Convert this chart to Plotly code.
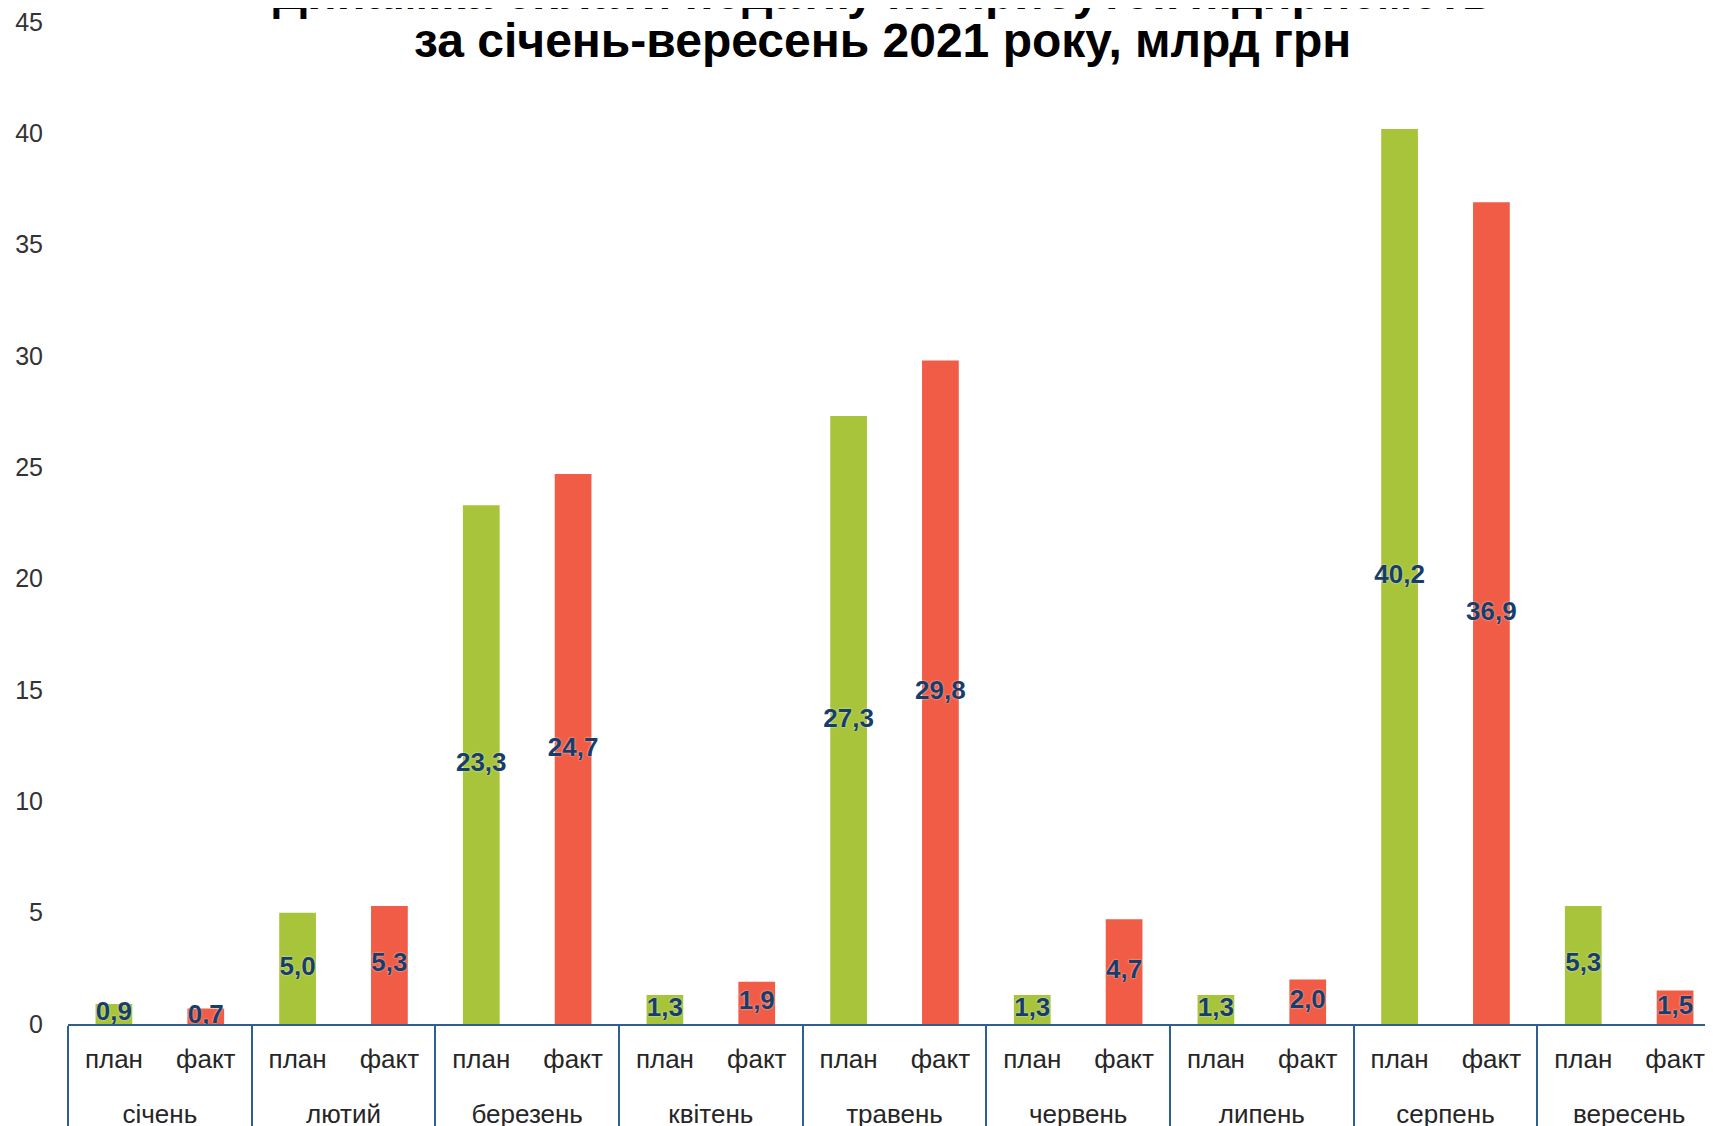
import plotly.graph_objects as go

months = ["січень", "лютий", "березень", "квітень", "травень", "червень", "липень", "серпень", "вересень"]
kinds = ["план", "факт"]
plan = [0.9, 5.0, 23.3, 1.3, 27.3, 1.3, 1.3, 40.2, 5.3]
fact = [0.7, 5.3, 24.7, 1.9, 29.8, 4.7, 2.0, 36.9, 1.5]
y_ticks = [0, 5, 10, 15, 20, 25, 30, 35, 40, 45]
title_lines = ["Динаміка сплати податку на прибуток підприємств",
               "за січень-вересень 2021 року, млрд грн"]

GREEN = "#A8C43A"
RED = "#F05C45"
LABEL = "#173E6B"
AXIS = "#2F5F8F"
FONT = "Arial, Liberation Sans, sans-serif"

x_top, x_sub, vals, colors = [], [], [], []
for m, p, f in zip(months, plan, fact):
    x_top += ["<br>" + m] * 2
    x_sub += kinds
    vals += [p, f]
    colors += [GREEN, RED]

labels = [f"{v:.1f}".replace(".", ",") for v in vals]

fig = go.Figure()
fig.add_trace(go.Bar(
    x=[x_top, x_sub], y=vals,
    marker=dict(color=colors, line=dict(width=0)),
    hoverinfo="skip", showlegend=False,
))
fig.add_trace(go.Scatter(
    x=[x_top, x_sub], y=[v / 2 for v in vals],
    mode="text", text=labels,
    textfont=dict(family=FONT, size=26, color=LABEL,
                  weight="bold", shadow="0px 0px 2px rgba(255,255,255,0.8)"),
    textposition="middle center",
    hoverinfo="skip", showlegend=False,
))

W, H = 1713, 1126
L, T, B = 60, 14, 110
plot_h = H - T - B
title_px = [-16, 32]
for line, ypx in zip(title_lines, title_px):
    fig.add_annotation(
        text=line, showarrow=False,
        xref="paper", x=0.4925, xanchor="center",
        yref="paper", y=(H - B - ypx) / plot_h, yanchor="middle",
        font=dict(family=FONT, size=48, color="#000000", weight="bold"),
    )

fig.update_layout(
    width=W, height=H,
    margin=dict(l=L, r=0, t=T, b=B),
    paper_bgcolor="white", plot_bgcolor="white",
    bargap=0.6,
    font=dict(family=FONT),
)
fig.update_xaxes(
    type="multicategory",
    range=[-0.5, 17.5],
    automargin=False,
    showline=True, linecolor=AXIS, linewidth=2,
    showgrid=False, ticks="",
    showdividers=True, dividercolor=AXIS, dividerwidth=2,
    ticklabelstandoff=11,
    ticklabeloverflow="allow",
    tickfont=dict(size=26, color="#262626"),
)
fig.update_yaxes(
    range=[0, 45], tickvals=y_ticks,
    automargin=False,
    showgrid=False, zeroline=False, showline=False, ticks="",
    ticklabelstandoff=24,
    ticklabeloverflow="allow",
    tickfont=dict(size=25, color="#333333"),
)

fig.write_html("out.html")
